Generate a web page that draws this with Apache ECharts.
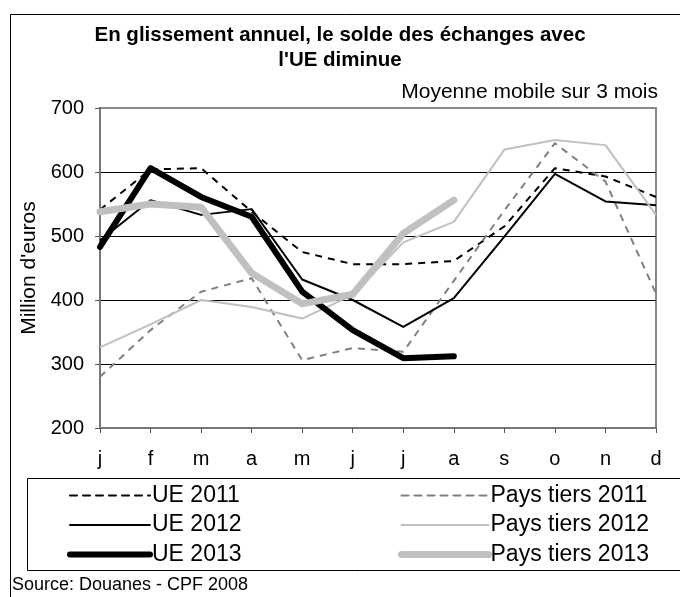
<!DOCTYPE html>
<html>
<head>
<meta charset="utf-8">
<script src="https://cdn.jsdelivr.net/npm/echarts@6/dist/echarts.min.js"></script>
<style>
  html, body { margin: 0; padding: 0; background: #fff; }
  #chart { width: 680px; height: 597px; }
</style>
</head>
<body>
<div id="chart"></div>
<script>
const months = ['j', 'f', 'm', 'a', 'm', 'j', 'j', 'a', 's', 'o', 'n', 'd'];
const ue2011 = [541, 604, 606, 538, 475, 456, 456, 461, 515, 606, 593, 561];
const pt2011 = [280, 353, 413, 434, 306, 325, 319, 430, 540, 645, 585, 410];
const ue2012 = [493, 556, 533, 542, 432, 400, 358, 403, 499, 597, 554, 548];
const pt2012 = [326, 362, 400, 389, 371, 408, 490, 522, 635, 650, 642, 533];
const ue2013 = [483, 606, 561, 530, 413, 353, 309, 312];
const pt2013 = [538, 550, 545, 442, 394, 409, 504, 556];
const yTicks = { min: 200, max: 700, interval: 100 };

const FONT = '"Liberation Sans", Arial, sans-serif';
const chart = echarts.init(document.getElementById('chart'), null, { renderer: 'canvas' });

function line(name, data, color, width, type, z) {
  return {
    name: name, type: 'line', data: data, symbol: 'none', z: z,
    lineStyle: { color: color, width: width, type: type, cap: width > 4 ? 'round' : 'butt', join: 'round' },
    itemStyle: { color: color },
    emphasis: { disabled: true },
    animation: false
  };
}

const legendText = { fontFamily: FONT, fontSize: 23, color: '#000', lineHeight: 22, padding: [0, 0, 0, -3] };
const legendCommon = {
  orient: 'vertical', top: 484, padding: 0, itemHeight: 14, itemGap: 6.5,
  textStyle: legendText, selectedMode: false,
  itemStyle: { opacity: 0 },
  lineStyle: { width: 'inherit', cap: 'round' }
};

chart.setOption({
  animation: false,
  backgroundColor: '#fff',
  title: {
    text: "En glissement annuel, le solde des échanges avec\nl'UE diminue",
    left: 'center', top: 18,
    textStyle: { fontFamily: FONT, fontSize: 20.5, fontWeight: 'bold', color: '#000', lineHeight: 25 }
  },
  grid: { left: 100, right: 24, top: 108, bottom: 169, show: true, borderColor: '#888', borderWidth: 2, backgroundColor: 'transparent' },
  xAxis: {
    type: 'category', data: months, boundaryGap: false,
    axisLine: { lineStyle: { color: '#777', width: 2 } },
    axisTick: { show: true, length: 5, lineStyle: { color: '#555', width: 1 } },
    axisLabel: { fontFamily: FONT, fontSize: 20, color: '#000', margin: 21 },
    splitLine: { show: false }
  },
  yAxis: {
    type: 'value', min: yTicks.min, max: yTicks.max, interval: yTicks.interval,
    name: "Million d'euros", nameLocation: 'middle', nameRotate: 90, nameGap: 57,
    nameTextStyle: { fontFamily: FONT, fontSize: 21, color: '#000' },
    axisLine: { show: true, lineStyle: { color: '#777', width: 2 } },
    axisTick: { show: true, length: 5, lineStyle: { color: '#555', width: 1 } },
    axisLabel: { fontFamily: FONT, fontSize: 20, color: '#000', margin: 16 },
    splitLine: { show: true, showMinLine: false, showMaxLine: false, lineStyle: { color: '#000', width: 1 } }
  },
  legend: [
    Object.assign({}, legendCommon, { data: ['UE 2011', 'UE 2012', 'UE 2013'], left: 67, itemWidth: 80 }),
    Object.assign({}, legendCommon, { data: ['Pays tiers 2011', 'Pays tiers 2012', 'Pays tiers 2013'], left: 398, itemWidth: 87 })
  ],
  graphic: [
    { type: 'rect', shape: { x: 10.5, y: 14.5, width: 700, height: 620 }, style: { fill: 'none', stroke: '#000', lineWidth: 1 }, z: -10, silent: true },
    { type: 'rect', shape: { x: 27.5, y: 478.5, width: 700, height: 92 }, style: { fill: 'none', stroke: '#000', lineWidth: 1 }, z: -10, silent: true },
    { type: 'text', x: 658, y: 92, style: { text: 'Moyenne mobile sur 3 mois', fontFamily: FONT, fontSize: 21, fill: '#000', align: 'right', verticalAlign: 'middle' }, silent: true },
    { type: 'text', x: 12, y: 585, style: { text: 'Source: Douanes - CPF 2008', fontFamily: FONT, fontSize: 18, fill: '#000', align: 'left', verticalAlign: 'middle' }, silent: true }
  ],
  series: [
    line('UE 2011', ue2011, '#000', 2, [7, 6], 2),
    line('Pays tiers 2011', pt2011, '#808080', 2, [7, 6], 2),
    line('UE 2012', ue2012, '#000', 2, 'solid', 3),
    line('Pays tiers 2012', pt2012, '#c0c0c0', 2, 'solid', 3),
    line('UE 2013', ue2013, '#000', 6, 'solid', 4),
    line('Pays tiers 2013', pt2013, '#c0c0c0', 7, 'solid', 5)
  ]
});
</script>
</body>
</html>
